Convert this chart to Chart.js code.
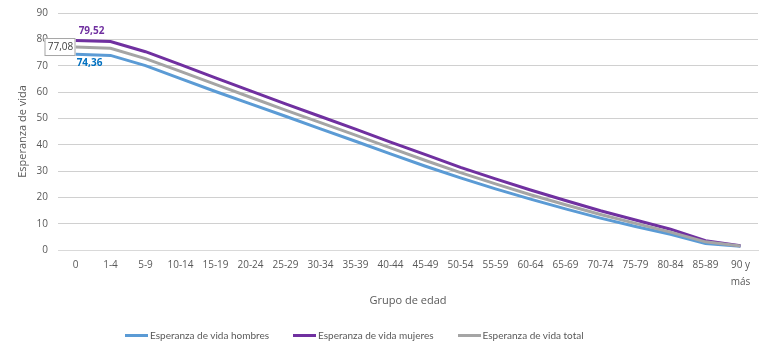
<!DOCTYPE html>
<html lang="es">
<head>
    <meta charset="UTF-8">
    <title>Esperanza de vida por grupo de edad</title>
    <script src="https://cdn.jsdelivr.net/npm/chart.js"></script>
    <style>
        html, body {
            margin: 0;
            padding: 0;
            background: #ffffff;
        }
        .wrap {
            position: relative;
            width: 773px;
            height: 351px;
        }
        .legend {
            position: absolute;
            left: 125px;
            top: 329px;
            display: flex;
            gap: 24px;
            font-family: Lato, sans-serif;
            font-size: 10px;
            color: #595959;
        }
        .legend-item {
            display: flex;
            align-items: center;
            gap: 2px;
        }
        .legend-line {
            width: 23px;
            height: 3px;
        }
    </style>
</head>
<body>

<div class="wrap">
    <canvas id="lifeChart" width="773" height="351"></canvas>
    <div class="legend" id="legend"></div>
</div>

<script>
    // Grupos de edad
    const ageGroups = ['0', '1-4', '5-9', '10-14', '15-19', '20-24', '25-29', '30-34', '35-39', '40-44',
        '45-49', '50-54', '55-59', '60-64', '65-69', '70-74', '75-79', '80-84', '85-89', ['90 y', 'más']];

    const hombres = [74.36, 73.9, 70.0, 65.1, 60.2, 55.5, 50.8, 46.0, 41.3, 36.5,
        31.8, 27.4, 23.2, 19.3, 15.6, 12.1, 8.9, 6.0, 2.5, 1.4];
    const mujeres = [79.52, 79.2, 75.3, 70.4, 65.4, 60.4, 55.5, 50.7, 45.9, 41.0,
        36.2, 31.4, 27.0, 22.8, 18.8, 14.9, 11.4, 7.9, 3.5, 1.6];
    const total = [77.08, 76.6, 72.7, 67.8, 62.9, 58.0, 53.1, 48.4, 43.6, 38.8,
        34.0, 29.4, 25.1, 21.0, 17.2, 13.5, 10.1, 6.8, 3.1, 1.5];

    const yTicks = [0, 10, 20, 30, 40, 50, 60, 70, 80, 90];

    const seriesNames = ['Esperanza de vida hombres', 'Esperanza de vida mujeres', 'Esperanza de vida total'];
    const seriesColors = ['#5B9BD5', '#7030A0', '#A5A5A5'];

    const textColor = '#595959';
    const fontFamily = '"Open Sans", sans-serif';

    // etiquetas del primer punto (0 años)
    const firstLabels = {
        draw(chart) {
            const ctx = chart.ctx;
            const pMen = chart.getDatasetMeta(0).data[0];
            const pWomen = chart.getDatasetMeta(1).data[0];
            const pTotal = chart.getDatasetMeta(2).data[0];

            ctx.save();
            ctx.textAlign = 'center';
            ctx.textBaseline = 'middle';
            ctx.font = 'bold 10px ' + fontFamily;

            ctx.fillStyle = '#7030A0';
            ctx.fillText(mujeres[0].toFixed(2).replace('.', ','), pWomen.x + 16, pWomen.y - 9);

            ctx.fillStyle = '#0070C0';
            ctx.fillText(hombres[0].toFixed(2).replace('.', ','), pMen.x + 14, pMen.y + 9);

            // caja del total
            ctx.font = '10px ' + fontFamily;
            ctx.fillStyle = '#ffffff';
            ctx.fillRect(pTotal.x - 31, pTotal.y - 8.5, 31, 17);
            ctx.strokeStyle = '#A6A6A6';
            ctx.lineWidth = 1;
            ctx.strokeRect(pTotal.x - 30.5, pTotal.y - 8.5, 30, 17);
            ctx.fillStyle = '#404040';
            ctx.fillText(total[0].toFixed(2).replace('.', ','), pTotal.x - 15, pTotal.y);
            ctx.restore();
        }
    };

    const labelPlugin = {
        id: 'firstLabels',
        afterDatasetsDraw(chart) {
            firstLabels.draw(chart);
        }
    };

    const makeDataset = (i, values, order) => ({
        label: seriesNames[i],
        data: values,
        borderColor: seriesColors[i],
        backgroundColor: seriesColors[i],
        borderWidth: 3,
        pointRadius: 0,
        tension: 0,
        order: order
    });

    const ctx = document.getElementById('lifeChart').getContext('2d');

    const lifeChart = new Chart(ctx, {
        type: 'line',
        data: {
            labels: ageGroups,
            datasets: [
                makeDataset(0, hombres, 3),
                makeDataset(1, mujeres, 2),
                makeDataset(2, total, 1)
            ]
        },
        options: {
            responsive: false,
            animation: false,
            layout: {
                padding: { top: 0, left: 0, right: 15, bottom: 33 }
            },
            plugins: {
                legend: { display: false },
                tooltip: { enabled: false }
            },
            scales: {
                x: {
                    offset: true,
                    grid: { display: false, drawTicks: false },
                    border: { display: true, color: '#D9D9D9' },
                    ticks: {
                        autoSkip: false,
                        maxRotation: 0,
                        padding: 7,
                        color: textColor,
                        font: { family: fontFamily, size: 10, lineHeight: 1.65 }
                    },
                    title: {
                        display: true,
                        text: 'Grupo de edad',
                        color: textColor,
                        font: { family: fontFamily, size: 11 },
                        padding: { top: 0, bottom: 11 }
                    },
                    afterFit(scale) {
                        scale.height = 68;
                    }
                },
                y: {
                    min: 0,
                    max: 90,
                    afterBuildTicks(scale) {
                        scale.ticks = yTicks.map(v => ({ value: v }));
                    },
                    grid: { color: '#D0D0D0', drawTicks: false },
                    border: { display: false },
                    ticks: {
                        padding: 10,
                        color: textColor,
                        font: { family: fontFamily, size: 10 }
                    },
                    title: {
                        display: true,
                        text: 'Esperanza de vida',
                        color: textColor,
                        font: { family: fontFamily, size: 11 },
                        padding: { top: 16, bottom: 0 }
                    },
                    afterFit(scale) {
                        scale.width = 58;
                        scale.paddingTop = 13;
                    }
                }
            }
        },
        plugins: [labelPlugin]
    });

    // leyenda en HTML
    const legendEl = document.getElementById('legend');
    legendEl.innerHTML = seriesNames.map((name, i) => `
        <div class="legend-item">
            <div class="legend-line" style="background:${seriesColors[i]}"></div>
            <span>${name}</span>
        </div>
    `).join('');
</script>

</body>
</html>
